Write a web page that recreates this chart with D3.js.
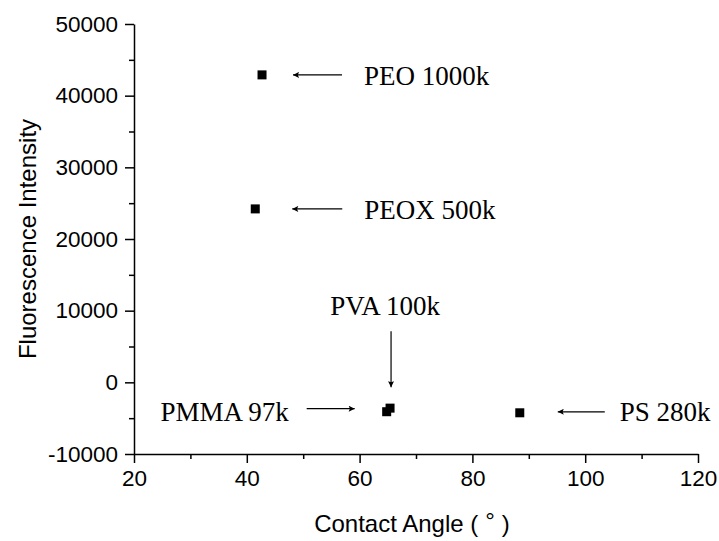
<!DOCTYPE html>
<html>
<head>
<meta charset="utf-8">
<script src="https://cdn.jsdelivr.net/npm/d3@7"></script>
<style>
  html, body { margin: 0; padding: 0; background: #fff; }
  svg { display: block; }
  .tick text { font-family: "Liberation Sans", Arial, sans-serif; font-size: 22.5px; fill: #000; }
  .axis-title { font-family: "Liberation Sans", Arial, sans-serif; font-size: 24px; fill: #000; }
  .note { font-family: "Liberation Serif", "Times New Roman", serif; font-size: 27px; fill: #000; }
</style>
</head>
<body>
<svg id="chart" width="719" height="541"></svg>
<script>
// Polymer films: water contact angle vs. measured fluorescence intensity
const polymers = ["PEO 1000k", "PEOX 500k", "PVA 100k", "PMMA 97k", "PS 280k"];
const contactAngle = [42.7, 41.5, 65.4, 64.8, 88.4];
const intensity = [42900, 24200, -3600, -4100, -4250];

const xTicks = [20, 40, 60, 80, 100, 120];
const yTicks = [-10000, 0, 10000, 20000, 30000, 40000, 50000];

// Label/arrow placement around each point (pixel offsets from the marker)
const notes = [
  { arrow: [80, 0, 31, 0],     text: [102, 10], anchor: "start" },
  { arrow: [87, 0, 37, 0],     text: [109, 10], anchor: "start" },
  { arrow: [1, -77, 1, -21],   text: [-5, -93], anchor: "middle" },
  { arrow: [-80, -3, -32, -3], text: [-98, 9],  anchor: "end" },
  { arrow: [85, -1, 38, -1],   text: [100, 8],  anchor: "start" }
];

const svg = d3.select("#chart");
const margin = { left: 134, right: 21, top: 24, bottom: 87 };
const W = 719, H = 541;

const x = d3.scaleLinear().domain([20, 120]).range([margin.left, W - margin.right]);
const y = d3.scaleLinear().domain([-10000, 50000]).range([H - margin.bottom, margin.top]);

// plain hyphen for negative tick values
const fmt = d => String(d);

const defs = svg.append("defs");
defs.append("marker")
  .attr("id", "head")
  .attr("viewBox", "0 0 10 10")
  .attr("refX", 10).attr("refY", 5)
  .attr("markerWidth", 10).attr("markerHeight", 6)
  .attr("markerUnits", "userSpaceOnUse")
  .attr("orient", "auto")
  .append("path").attr("d", "M0,0 L10,5 L0,10 L2,5 Z").attr("fill", "#000");

// Minor ticks
const xMinor = d3.range(30, 120, 20);
const yMinor = d3.range(-5000, 50000, 10000);

svg.append("g")
  .attr("transform", `translate(0,${y(-10000)})`)
  .call(d3.axisBottom(x).tickValues(xMinor).tickSize(5).tickFormat(""))
  .call(g => g.select(".domain").remove())
  .call(g => g.selectAll("line").attr("stroke-width", 1.5));

svg.append("g")
  .attr("transform", `translate(${x(20)},0)`)
  .call(d3.axisLeft(y).tickValues(yMinor).tickSize(5).tickFormat(""))
  .call(g => g.select(".domain").remove())
  .call(g => g.selectAll("line").attr("stroke-width", 1.5));

// Major axes
const xAxis = svg.append("g")
  .attr("transform", `translate(0,${y(-10000)})`)
  .call(d3.axisBottom(x).tickValues(xTicks).tickSize(9).tickSizeOuter(0).tickPadding(7).tickFormat(fmt));
xAxis.select(".domain").attr("stroke-width", 1.5);
xAxis.selectAll("line").attr("stroke-width", 1.5);

const yAxis = svg.append("g")
  .attr("transform", `translate(${x(20)},0)`)
  .call(d3.axisLeft(y).tickValues(yTicks).tickSize(9).tickSizeOuter(0).tickPadding(7).tickFormat(fmt));
yAxis.select(".domain").attr("stroke-width", 1.5);
yAxis.selectAll("line").attr("stroke-width", 1.5);

// Axis titles
const xt = svg.append("text").attr("class", "axis-title")
  .attr("x", (x(20) + x(120)) / 2 - 4).attr("y", 532)
  .attr("text-anchor", "middle");
xt.append("tspan").text("Contact Angle (");
xt.append("tspan").attr("dx", 7).attr("dy", -3).text("\u00B0");
xt.append("tspan").attr("dx", 7).attr("dy", 3).text(")");

svg.append("text").attr("class", "axis-title")
  .attr("transform", `translate(36,${(y(-10000) + y(50000)) / 2}) rotate(-90)`)
  .attr("text-anchor", "middle")
  .text("Fluorescence Intensity");

// Points
const data = polymers.map((p, i) => ({ name: p, cx: x(contactAngle[i]), cy: y(intensity[i]), note: notes[i] }));
const sz = 9;
svg.append("g").selectAll("rect").data(data).join("rect")
  .attr("x", d => d.cx - sz / 2).attr("y", d => d.cy - sz / 2)
  .attr("width", sz).attr("height", sz)
  .attr("fill", "#000");

// Annotations
const ann = svg.append("g");
ann.selectAll("line").data(data).join("line")
  .attr("x1", d => d.cx + d.note.arrow[0]).attr("y1", d => d.cy + d.note.arrow[1])
  .attr("x2", d => d.cx + d.note.arrow[2]).attr("y2", d => d.cy + d.note.arrow[3])
  .attr("stroke", "#000").attr("stroke-width", 1.2)
  .attr("marker-end", "url(#head)");

ann.selectAll("text").data(data).join("text")
  .attr("class", "note")
  .attr("x", d => d.cx + d.note.text[0]).attr("y", d => d.cy + d.note.text[1])
  .attr("text-anchor", d => d.note.anchor)
  .text(d => d.name);
</script>
</body>
</html>
